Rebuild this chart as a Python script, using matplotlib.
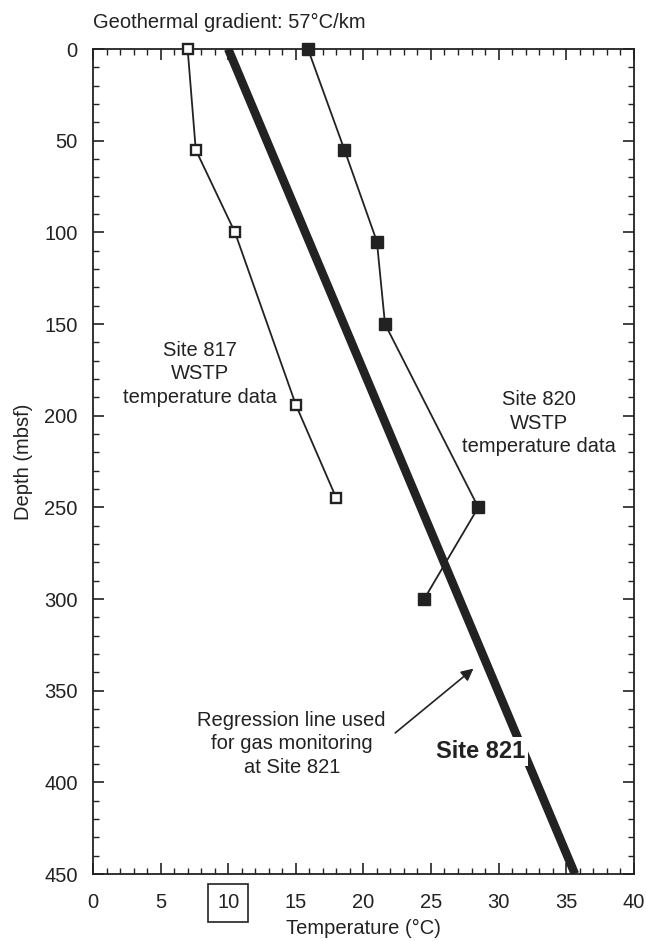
import matplotlib
matplotlib.use("Agg")
import matplotlib.pyplot as plt
from matplotlib.ticker import MultipleLocator

plt.rcParams['font.family'] = ['Liberation Sans', 'DejaVu Sans']

# WSTP temperature measurements (temperature in degC, depth in mbsf)
site817_temp = [7.0, 7.6, 10.5, 15.0, 18.0]
site817_depth = [0, 55, 100, 194, 245]

site820_temp = [15.9, 18.6, 21.0, 21.6, 28.5, 24.5]
site820_depth = [0, 55, 105, 150, 250, 300]

# Site 821 regression line: 57 degC/km from 10 degC at the seafloor
surface_temp = 10.0
gradient = 0.057  # degC per m
reg_depth = [0, 450]
reg_temp = [surface_temp + gradient * d for d in reg_depth]

ink = "#222222"
fs = 14.5

fig = plt.figure(figsize=(6.46, 9.41), dpi=100)
ax = fig.add_axes([0.144, 0.0712, 0.837, 0.8767])

ax.plot(reg_temp, reg_depth, color=ink, lw=6.2, solid_capstyle="butt", zorder=2)
ax.plot(site817_temp, site817_depth, color=ink, lw=1.3, marker="s", ms=7.5,
        mfc="white", mec=ink, mew=1.7, zorder=3, clip_on=False)
ax.plot(site820_temp, site820_depth, color=ink, lw=1.3, marker="s", ms=8,
        mfc=ink, mec=ink, zorder=3, clip_on=False)

ax.set_xlim(0, 40)
ax.set_ylim(450, 0)
ax.xaxis.set_major_locator(MultipleLocator(5))
ax.xaxis.set_minor_locator(MultipleLocator(1))
ax.yaxis.set_major_locator(MultipleLocator(50))
ax.yaxis.set_minor_locator(MultipleLocator(10))
ax.tick_params(which="both", direction="in", top=True, right=True,
               color=ink, labelcolor=ink, labelsize=fs)
ax.tick_params(which="major", length=8, width=1.2)
ax.tick_params(which="minor", length=4.5, width=1.0)
ax.tick_params(axis="x", which="major", pad=14)
ax.tick_params(axis="y", which="major", pad=11)
for side in ax.spines.values():
    side.set_color(ink)
    side.set_linewidth(1.3)

# box round the surface temperature value on the x axis
fig.canvas.draw()
for lab in ax.get_xticklabels():
    if lab.get_text() == "10":
        lab.set_bbox(dict(boxstyle="square,pad=0.45", fc="none", ec=ink, lw=1.2))

ax.set_xlabel("Temperature (°C)", fontsize=fs, color=ink, labelpad=5)
ax.set_ylabel("Depth (mbsf)", fontsize=fs, color=ink, labelpad=8)
fig.text(0.144, 0.976, "Geothermal gradient: 57°C/km", fontsize=fs,
         color=ink, ha="left", va="center")

ax.text(7.9, 177, "Site 817\nWSTP\ntemperature data", ha="center", va="center",
        fontsize=fs, color=ink, linespacing=1.3)
ax.text(33.0, 204, "Site 820\nWSTP\ntemperature data", ha="center", va="center",
        fontsize=fs, color=ink, linespacing=1.3)
ax.text(14.7, 379, "Regression line used\nfor gas monitoring\nat Site 821",
        ha="center", va="center", fontsize=fs, color=ink, linespacing=1.3)
ax.text(28.7, 383, "Site 821", ha="center", va="center", fontsize=17,
        fontweight="bold", color=ink, zorder=4,
        bbox=dict(boxstyle="square,pad=0.12", fc="white", ec="none"))

ax.annotate("", xy=(28.3, 337), xytext=(22.2, 374),
            arrowprops=dict(arrowstyle="-|>", color=ink, lw=1.2,
                            mutation_scale=18))

fig.savefig("out.png", dpi=100)
